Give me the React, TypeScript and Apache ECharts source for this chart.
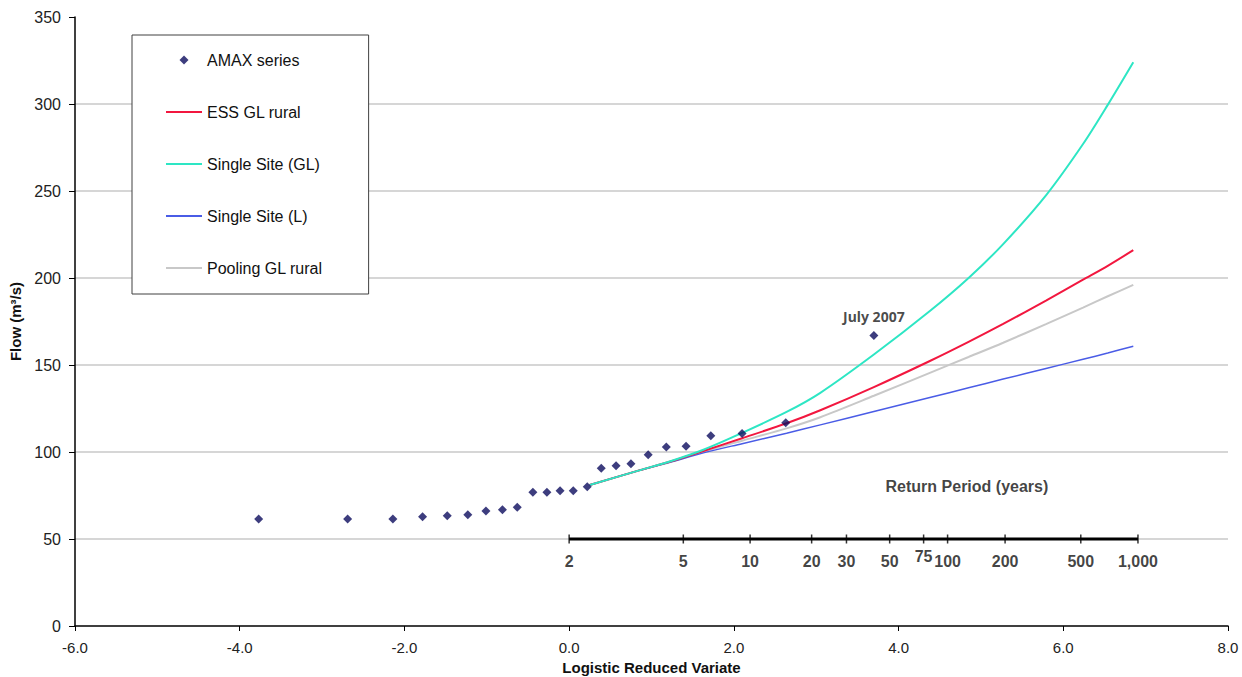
import React, { useEffect, useRef } from "react";
import * as echarts from "echarts";

// ---- data ----
const amaxX = [-3.77, -2.69, -2.14, -1.78, -1.48, -1.23, -1.01, -0.81, -0.63, -0.44, -0.27, -0.11, 0.05, 0.22, 0.39, 0.57, 0.75, 0.96, 1.18, 1.42, 1.72, 2.1, 2.63, 3.7];
const amaxFlow = [61.5, 61.5, 61.5, 62.8, 63.4, 64.0, 66.1, 66.8, 68.2, 76.8, 76.8, 77.8, 77.8, 80.0, 90.6, 92.1, 93.3, 98.4, 102.9, 103.3, 109.4, 110.7, 116.8, 167.0];
const amaxNoteIndex = 23;
const amaxNote = "July 2007";

const curveX = [0.25, 0.82, 1.23, 1.63, 2.1, 2.64, 3.05, 3.7, 4.38, 4.85, 5.27, 5.79, 6.24, 6.54, 6.85];
const essGLRural = [81, 89, 94.5, 100.6, 107.9, 116.5, 124, 137.3, 152.3, 163.3, 173.6, 187, 199, 207, 216];
const singleSiteGL = [81, 89, 94.7, 101.3, 111, 123, 134, 156, 181, 200, 219.5, 247.5, 277, 299.5, 324];
const singleSiteL = [81, 89, 94.2, 99.5, 104.8, 110.8, 115.6, 123.3, 131.3, 136.9, 141.9, 148, 153.3, 156.9, 160.8];
const poolingGLRural = [81, 89, 94.3, 100.2, 106.5, 113.6, 120, 132.3, 145.5, 154.6, 162.8, 173.5, 183, 189.5, 196];

const returnPeriods = [2, 5, 10, 20, 30, 50, 75, 100, 200, 500, 1000];
const returnAxisFlow = 50;
const returnTitle = "Return Period (years)";
const returnTitlePos = [4.83, 80];

const xTicks = { min: -6, max: 8, interval: 2 };
const yTicks = { min: 0, max: 350, interval: 50 };
const gridValues = [50, 100, 150, 200, 250, 300];

const seriesNames = ["AMAX series", "ESS GL rural", "Single Site (GL)", "Single Site (L)", "Pooling GL rural"];

const FONT = "'Liberation Sans', Arial, sans-serif";
const DIAMOND_ICON = "path://M5,0L10,5L5,10L0,5Z";
const LINE_ICON = "path://M0,0H36V2H0Z";

export default function App() {
  const ref = useRef<HTMLDivElement>(null);

  useEffect(() => {
    if (!ref.current) return;
    const chart = echarts.init(ref.current, undefined, { renderer: "svg" });

    const rpX = returnPeriods.map((t) => Math.log(t - 1));
    const pair = (xs: number[], ys: number[]) => xs.map((x, i) => [x, ys[i]]);

    const amaxData = amaxX.map((x, i) => {
      if (i === amaxNoteIndex) {
        return {
          value: [x, amaxFlow[i]],
          label: {
            show: true,
            position: "top",
            distance: 7,
            formatter: amaxNote,
            fontFamily: "'Noto Sans', 'Open Sans', sans-serif",
            fontWeight: "bold",
            fontSize: 14,
            color: "#1a1a1a",
          },
        };
      }
      return [x, amaxFlow[i]];
    });

    const lineSeries = (name: string, ys: number[], color: string, width: number) => ({
      name,
      type: "line",
      data: pair(curveX, ys),
      smooth: 0.3,
      symbol: "none",
      lineStyle: { color, width },
      itemStyle: { color },
      z: 3,
    });

    const option: any = {
      animation: false,
      backgroundColor: "#ffffff",
      grid: { left: 75, right: 14, top: 17, bottom: 51, containLabel: false, outerBoundsMode: "none" },
      legend: {
        data: seriesNames.map((n, i) => ({ name: n, icon: i === 0 ? DIAMOND_ICON : LINE_ICON })),
        orient: "vertical",
        left: 132,
        top: 35,
        padding: [17, 46, 18, 34],
        itemGap: 36,
        itemWidth: 36,
        itemHeight: 9,
        symbolKeepAspect: true,
        borderColor: "#404040",
        borderWidth: 1,
        backgroundColor: "#ffffff",
        textStyle: { fontFamily: FONT, fontSize: 16, color: "#111" },
        selectedMode: false,
      },
      xAxis: {
        type: "value",
        min: xTicks.min,
        max: xTicks.max,
        interval: xTicks.interval,
        name: "Logistic Reduced Variate",
        nameLocation: "middle",
        nameGap: 30,
        nameTextStyle: { fontFamily: FONT, fontWeight: "bold", fontSize: 15, color: "#111" },
        axisLine: { show: true, onZero: false, lineStyle: { color: "#000", width: 1.5 } },
        axisTick: { show: true, length: 5, lineStyle: { color: "#000" } },
        axisLabel: {
          fontFamily: FONT,
          fontSize: 15,
          color: "#222",
          margin: 14,
          formatter: (v: number) => v.toFixed(1),
        },
        splitLine: { show: false },
      },
      yAxis: {
        type: "value",
        min: yTicks.min,
        max: yTicks.max,
        interval: yTicks.interval,
        name: "Flow (m³/s)",
        nameLocation: "middle",
        nameGap: 51,
        nameRotate: 90,
        nameTextStyle: { fontFamily: FONT, fontWeight: "bold", fontSize: 15, color: "#111" },
        axisLine: { show: true, onZero: false, lineStyle: { color: "#000", width: 1.5 } },
        axisTick: { show: true, length: 6, lineStyle: { color: "#000" } },
        axisLabel: { fontFamily: FONT, fontSize: 16, color: "#222", margin: 14 },
        splitLine: { show: false },
      },
      series: [
        {
          name: "grid",
          type: "line",
          data: [],
          z: 0,
          silent: true,
          markLine: {
            silent: true,
            z: 0,
            symbol: "none",
            label: { show: false },
            lineStyle: { color: "#c8c8c8", width: 1.5, type: "solid" },
            data: gridValues.map((v) => ({ yAxis: v })),
          },
        },
        {
          name: "returnAxis",
          type: "line",
          data: [[rpX[0], returnAxisFlow], [rpX[rpX.length - 1], returnAxisFlow]],
          symbol: "none",
          lineStyle: { color: "#000", width: 3 },
          z: 2,
          silent: true,
        },
        {
          name: "returnTicks",
          type: "scatter",
          data: returnPeriods.map((t, i) => ({
            value: [rpX[i], returnAxisFlow, t],
            label: t === 75 ? { offset: [0, -5] } : undefined,
          })),
          symbol: "rect",
          symbolSize: [1.5, 9],
          itemStyle: { color: "#000" },
          z: 2,
          silent: true,
          label: {
            show: true,
            position: "bottom",
            distance: 10,
            fontFamily: FONT,
            fontWeight: "bold",
            fontSize: 16,
            color: "#111",
            formatter: (p: any) => Number(p.value[2]).toLocaleString("en-US"),
          },
        },
        {
          name: "returnTitle",
          type: "scatter",
          data: [returnTitlePos],
          symbolSize: 0,
          silent: true,
          label: {
            show: true,
            position: "inside",
            formatter: returnTitle,
            fontFamily: FONT,
            fontWeight: "bold",
            fontSize: 16,
            color: "#111",
          },
        },
        lineSeries("Pooling GL rural", poolingGLRural, "#c8c8c8", 2),
        lineSeries("Single Site (L)", singleSiteL, "#4a5ce6", 1.5),
        lineSeries("ESS GL rural", essGLRural, "#f2173f", 2),
        lineSeries("Single Site (GL)", singleSiteGL, "#2de6c4", 2),
        {
          name: "AMAX series",
          type: "scatter",
          data: amaxData,
          symbol: "diamond",
          symbolSize: 9,
          itemStyle: { color: "#0d0d5e" },
          z: 4,
        },
      ],
    };

    chart.setOption(option);
    return () => chart.dispose();
  }, []);

  return (
    <div
      ref={ref}
      style={{ position: "fixed", left: 0, top: 0, width: 1242, height: 677, background: "#fff" }}
    />
  );
}
